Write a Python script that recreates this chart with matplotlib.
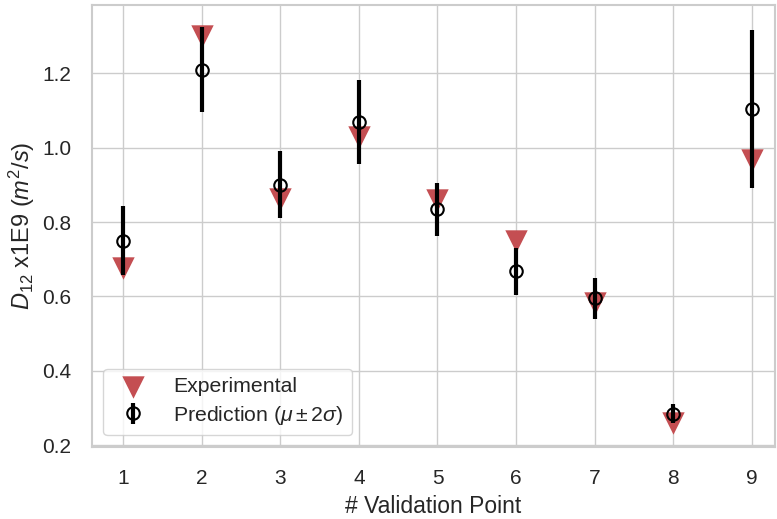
import numpy as np
import matplotlib.pyplot as plt
import seaborn as sns

sns.set_theme(style="whitegrid")
plt.rcParams["font.family"] = ["Liberation Sans", "DejaVu Sans"]
plt.rcParams["mathtext.fontset"] = "custom"
plt.rcParams["mathtext.rm"] = "Liberation Sans"
plt.rcParams["mathtext.it"] = "Liberation Sans:italic"

# validation points
points = [1, 2, 3, 4, 5, 6, 7, 8, 9]
experimental = [0.675, 1.30, 0.862, 1.028, 0.860, 0.748, 0.583, 0.258, 0.968]
pred_mean = [0.750, 1.210, 0.900, 1.069, 0.834, 0.668, 0.595, 0.284, 1.104]
pred_2sigma = [0.093, 0.115, 0.090, 0.114, 0.071, 0.063, 0.055, 0.025, 0.212]

fig = plt.figure(figsize=(7.77, 5.19), dpi=100)
ax = fig.add_axes([0.118, 0.139, 0.88, 0.852])

ax.scatter(points, experimental, marker="v", s=260, color="#c44e52",
           linewidths=0, zorder=3, label="Experimental")
ax.errorbar(points, pred_mean, yerr=pred_2sigma, fmt="o", mfc="none",
            mec="black", mew=1.5, ms=9, ecolor="black", elinewidth=3,
            capsize=0, zorder=4, label=r"Prediction ($\mu \pm 2\sigma$)")

ax.set_xlim(0.6, 9.3)
ax.set_ylim(0.195, 1.385)
ax.set_xticks(points)
ax.set_yticks([0.2, 0.4, 0.6, 0.8, 1.0, 1.2])
ax.tick_params(labelsize=15, colors="#262626")
ax.tick_params(axis="x", pad=10)
ax.tick_params(axis="y", pad=8.5)
ax.set_xlabel("# Validation Point", fontsize=16.5, labelpad=5)
ax.set_ylabel(r"$D_{12}$ x1E9 ($m^2/s$)", fontsize=17, labelpad=4)
for s in ax.spines.values():
    s.set_color("#cccccc")
    s.set_linewidth(1.5)

ax.legend(loc="lower left", fontsize=15.3, frameon=True, borderaxespad=0.55,
          handletextpad=0.9, labelspacing=0.35)

fig.savefig("out.png", dpi=100)
